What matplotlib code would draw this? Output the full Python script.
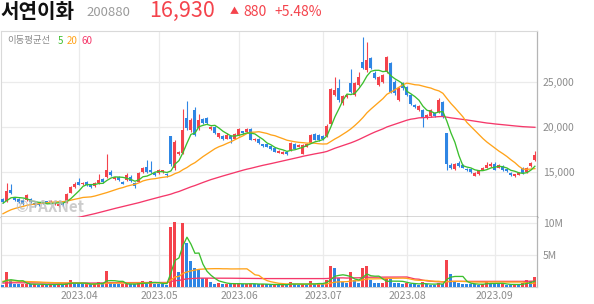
import numpy as np
import pandas as pd
import matplotlib
matplotlib.use("Agg")
import matplotlib.pyplot as plt

plt.rcParams['font.family'] = ['Noto Sans CJK KR', 'DejaVu Sans']

# ---------------- data ----------------
holidays = ["2023-05-01", "2023-05-05", "2023-05-29", "2023-06-06", "2023-08-15"]
dates = pd.bdate_range("2023-03-07", "2023-09-15")
dates = dates[~dates.isin(pd.to_datetime(holidays))]

open_ = [11990, 11820, 13000, 12150, 12000, 11890, 11890, 12080, 11630, 11520,
         11670, 11780, 11600, 11450, 11220, 11560, 11600, 12700, 13370, 13930,
         13670, 13890, 13590, 13440, 13810, 14300, 14480, 15030, 14220, 14440,
         13930, 14110, 14440, 13780, 13930, 15050, 15590, 15220, 14920, 14920,
         15030, 14860, 19000, 15500, 17080, 17100, 21000, 19670, 21890, 19860,
         20890, 21000, 19740, 20000, 18920, 19000, 18740, 19000, 18740, 19110,
         19530, 19480, 19780, 18560, 18670, 18080, 18080, 17890, 17700, 17150,
         17080, 17260, 17440, 18110, 17820, 17080, 17850, 18270, 19220, 19110,
         19000, 19000, 20300, 23560, 24330, 22670, 23370, 24920, 23560, 24670,
         27260, 26330, 27630, 26030, 24670, 25030, 26150, 27070, 25030, 23000,
         24850, 24480, 23560, 22450, 21890, 21890, 20970, 21220, 21590, 21700,
         22810, 19300, 15780, 15410, 16040, 15780, 15410, 15370, 14630, 14850,
         15300, 15520, 15670, 15890, 15520, 15670, 15370, 14960, 14560, 14700,
         15520, 15030, 15670, 16410]
high = [12100, 13810, 13740, 12300, 12150, 12000, 12600, 12200, 11700, 11600,
        11750, 11850, 11900, 11700, 11550, 11650, 12700, 13450, 13900, 14400,
        13950, 14000, 13700, 13900, 14850, 14400, 17000, 15200, 14500, 14550,
        14000, 14900, 14700, 13900, 15000, 15550, 16330, 16300, 15050, 15400,
        15300, 14950, 19070, 18600, 17400, 22000, 22900, 21000, 22200, 21500,
        21000, 21100, 20100, 20100, 19400, 19100, 19300, 19150, 19300, 19950,
        19600, 19950, 19850, 18850, 18750, 18150, 18150, 17950, 17800, 17450,
        17350, 17350, 18300, 18200, 18100, 18100, 18200, 19200, 19300, 19200,
        19100, 20300, 24300, 25590, 25300, 23600, 23700, 26400, 25000, 26150,
        29970, 29480, 27800, 26200, 25700, 25900, 27900, 27200, 25200, 24400,
        25000, 24600, 23650, 22550, 22450, 22000, 21450, 22000, 21700, 23200,
        22900, 19400, 16000, 16000, 16300, 15900, 15500, 15450, 15000, 15300,
        15600, 16150, 16100, 16100, 15900, 15800, 15450, 15050, 14850, 15000,
        15600, 15600, 16100, 17400]
low = [11600, 11700, 12600, 11800, 11600, 11400, 11800, 11600, 11200, 11250,
       11450, 11550, 11550, 11400, 11150, 11250, 11550, 12650, 13300, 13550,
       13600, 13500, 13300, 13350, 13750, 13800, 14400, 14550, 14100, 14000,
       13650, 14050, 13950, 13300, 13900, 14950, 14950, 14950, 14550, 14850,
       14950, 14500, 15700, 15300, 16900, 17000, 19700, 19500, 19000, 19700,
       20300, 20300, 19650, 19200, 18800, 18550, 18650, 18250, 18650, 19050,
       19200, 19400, 18550, 18450, 18100, 17800, 17750, 17500, 17200, 17100,
       17000, 16900, 17400, 17550, 17750, 17000, 17750, 18200, 18550, 18450,
       18600, 18900, 20200, 23400, 22800, 22500, 23250, 23800, 23400, 24550,
       26400, 26100, 26400, 25300, 24550, 24900, 26000, 23800, 23600, 22900,
       24150, 23450, 22450, 22100, 21800, 20030, 20850, 21100, 21100, 21600,
       21000, 15300, 15400, 15300, 15550, 15450, 15100, 14950, 14550, 14750,
       15250, 15450, 15600, 15200, 15450, 15150, 15050, 14600, 14500, 14650,
       14850, 14900, 15600, 16300]
close = [11700, 12920, 12750, 11890, 11700, 11520, 12450, 11700, 11330, 11330,
         11520, 11630, 11820, 11630, 11520, 11330, 12630, 13370, 13740, 13630,
         13850, 13590, 13370, 13810, 14190, 13920, 15220, 14670, 14440, 14110,
         13750, 14670, 14030, 13490, 14890, 15450, 15030, 15030, 14670, 15300,
         15220, 14670, 15900, 18400, 17260, 19670, 19890, 20780, 19110, 20780,
         20440, 20440, 20030, 19300, 19300, 18670, 19110, 18740, 19220, 19740,
         19300, 19810, 18630, 18740, 18190, 17860, 17850, 17590, 17300, 17370,
         17300, 17000, 18190, 17630, 18040, 18000, 18080, 19110, 18630, 18560,
         18740, 20110, 24200, 24110, 23000, 23440, 23560, 23920, 24850, 25590,
         26520, 27440, 26520, 25410, 25590, 25780, 27740, 23920, 23740, 24300,
         24300, 23560, 22560, 22190, 22330, 20970, 21330, 21890, 21220, 23000,
         21150, 15970, 15520, 15970, 15670, 15520, 15220, 15030, 14920, 15220,
         15520, 15780, 15970, 15300, 15780, 15220, 15110, 14670, 14780, 14920,
         14930, 15520, 16050, 16930]
volume_m = [0.30, 2.40, 1.10, 0.45, 0.35, 0.40, 0.50, 0.35, 0.40, 0.30,
            0.35, 0.30, 0.40, 0.35, 0.45, 0.30, 0.55, 1.10, 0.45, 0.40,
            0.35, 0.45, 0.40, 0.50, 0.80, 0.45, 2.50, 0.55, 0.40, 0.35,
            0.45, 0.50, 0.40, 0.35, 0.60, 0.90, 0.50, 0.90, 0.45, 0.40,
            0.35, 0.30, 9.50, 10.20, 2.40, 10.10, 6.90, 4.00, 3.00, 2.60,
            1.30, 1.35, 0.80, 0.50, 0.60, 0.45, 0.50, 0.40, 0.45, 0.55,
            0.40, 0.45, 0.50, 0.40, 0.35, 0.40, 0.35, 0.30, 0.35, 0.30,
            0.35, 0.30, 0.80, 0.35, 0.30, 0.35, 0.30, 0.90, 0.35, 0.60,
            0.35, 1.10, 3.30, 2.90, 1.30, 0.80, 0.55, 2.40, 1.00, 0.55,
            2.90, 3.20, 1.00, 0.65, 0.60, 0.65, 1.30, 1.20, 0.65, 0.55,
            0.50, 0.55, 0.50, 0.35, 0.30, 0.80, 0.35, 0.30, 0.25, 0.60,
            0.50, 4.20, 2.00, 0.80, 0.60, 0.50, 0.45, 0.40, 0.35, 0.30,
            0.45, 0.80, 0.60, 0.45, 0.35, 0.45, 0.30, 0.25, 0.45, 0.30,
            0.60, 1.00, 0.95, 1.60]
# closes / volumes before the visible window (feed the moving averages)
prior_close = [7450, 7500, 7480, 7550, 7600, 7580, 7620, 7650, 7600, 7680,
               7700, 7720, 7750, 7800, 7780, 7820, 7850, 7900, 7950, 8000,
               8100, 8300, 8600, 9000, 9300, 9500, 9800, 10100, 10400, 10300,
               10600, 10500, 10800, 11000, 10900, 11200, 11400, 11300, 11600, 11900]
prior_volume_m = [0.30, 0.25, 0.28, 0.32, 0.26, 0.30, 0.27, 0.35, 0.29, 0.31,
                  0.26, 0.28, 0.33, 0.30, 0.27, 0.29, 0.32, 0.28, 0.30, 0.34,
                  0.40, 0.60, 1.20, 0.90, 1.50, 0.80, 0.70, 1.10, 0.90, 0.60,
                  1.30, 0.80, 0.70, 0.90, 0.60, 0.80, 1.00, 0.70, 0.90, 0.80]
ma_windows = [5, 20, 60]
stock_name = "서연이화"
stock_code = "200880"

# ---------------- styles ----------------
RED = '#f4434c'
BLUE = '#2f86e4'
MA_COLORS = {5: '#3cbf2e', 20: '#ffa31a', 60: '#f5386a'}
GRID = '#ebebeb'
TXT = '#8c8c8c'

n = len(close)
idx = np.arange(n)
o = np.array(open_, float); h = np.array(high, float)
l = np.array(low, float); c = np.array(close, float)
vol = np.array(volume_m) * 1e6

allc = pd.Series(prior_close + close, dtype=float)
allv = pd.Series(prior_volume_m + volume_m, dtype=float) * 1e6
np_ = len(prior_close)
ma_p = {w: allc.rolling(w, min_periods=1).mean().iloc[np_:].values for w in ma_windows}
ma_v = {w: allv.rolling(w, min_periods=1).mean().iloc[np_:].values for w in ma_windows}

W, H = 594, 304
fig = plt.figure(figsize=(W / 100, H / 100), dpi=100)
fig.patch.set_facecolor('white')

def fx(px): return px / W
def fy(py): return 1 - py / H

x_l, x_r = 1, 537.3
y_top, y_mid, y_bot = 31, 216.7, 286.7
ax = fig.add_axes([fx(x_l), fy(y_mid), fx(x_r - x_l), (y_mid - y_top) / H])
axv = fig.add_axes([fx(x_l), fy(y_bot), fx(x_r - x_l), (y_bot - y_mid) / H])

# month ticks
month_first = [i for i in range(1, n) if dates[i].month != dates[i - 1].month]
month_labels = [dates[i].strftime("%Y.%m") for i in month_first]

for a in (ax, axv):
    a.set_xlim(-0.5, 133.6)
    a.set_xticks(month_first)
    a.grid(True, color=GRID, lw=0.9, zorder=0)
    a.set_axisbelow(True)
    a.yaxis.tick_right()
    a.tick_params(length=0, colors=TXT, labelsize=7.5, pad=4)
    for s in ('top', 'left'):
        a.spines[s].set_color('#d9d9d9'); a.spines[s].set_linewidth(0.8)
    a.spines['right'].set_color('#b5b5b5'); a.spines['right'].set_linewidth(0.9)

# ---- price panel ----
ax.set_ylim(10080, 30650)
ax.set_yticks([15000, 20000, 25000])
ax.set_yticklabels([f"{v:,}" for v in [15000, 20000, 25000]])
ax.set_xticklabels([])
ax.spines['bottom'].set_color('#3a3a3a'); ax.spines['bottom'].set_linewidth(1.0)

up = c >= o
ccol = np.where(up, RED, BLUE)
ax.vlines(idx, l, h, colors=ccol, lw=0.8, zorder=3)
body = np.maximum(np.abs(c - o), 60)
ax.bar(idx, body, bottom=np.minimum(o, c), width=0.75, color=ccol, lw=0, zorder=3)
for w in [60, 20, 5]:
    ax.plot(idx, ma_p[w], color=MA_COLORS[w], lw=0.95, zorder=4)

ax.text(14 / (x_r - x_l), (y_mid - 206.5) / (y_mid - y_top), "©PAXNet",
        transform=ax.transAxes, fontsize=11, fontweight='bold', style='italic',
        color='#bdbdbd', alpha=0.75, ha='left', va='center', zorder=5)

# ---- volume panel ----
axv.set_ylim(0, 11.06e6)
axv.set_yticks([5e6, 10e6])
axv.set_yticklabels(["5M", "10M"])
axv.set_xticklabels(month_labels)
axv.tick_params(axis='x', pad=3)
axv.spines['bottom'].set_color('#d0d0d0'); axv.spines['bottom'].set_linewidth(0.8)
axv.spines['top'].set_visible(False)

prev_v = np.concatenate([[prior_volume_m[-1] * 1e6], vol[:-1]])
vcol = np.where(vol > prev_v, RED, BLUE)
axv.bar(idx, vol, width=0.75, color=vcol, lw=0, zorder=3)
for w in [60, 20, 5]:
    axv.plot(idx, ma_v[w], color=MA_COLORS[w], lw=0.95, zorder=4)

# ---- header ----
chg = close[-1] - close[-2]
pct = chg / close[-2] * 100
fig.text(fx(0), fy(11), stock_name, fontsize=14.5, fontweight='bold', color='#111111',
         ha='left', va='center')
fig.text(fx(86), fy(12), stock_code, fontsize=9.5, color='#9b9b9b', ha='left', va='center')
fig.text(fx(149), fy(10.5), f"{close[-1]:,}", fontsize=15.5, color=RED, ha='left', va='center')
fig.text(fx(230), fy(12), "▲", fontsize=6.5, color=RED, ha='left', va='center')
fig.text(fx(243), fy(12), f"{chg:,}", fontsize=10, color=RED, ha='left', va='center')
fig.text(fx(274), fy(12), f"+{pct:.2f}%", fontsize=10, color=RED, ha='left', va='center')

fig.text(fx(7), fy(41), "이동평균선", fontsize=6.8, color=TXT, ha='left', va='center')
xpos = {5: 58, 20: 67, 60: 82}
for w in ma_windows:
    fig.text(fx(xpos[w]), fy(41), str(w), fontsize=7, color=MA_COLORS[w],
             ha='left', va='center')

fig.savefig("out.png", dpi=100, facecolor='white')
